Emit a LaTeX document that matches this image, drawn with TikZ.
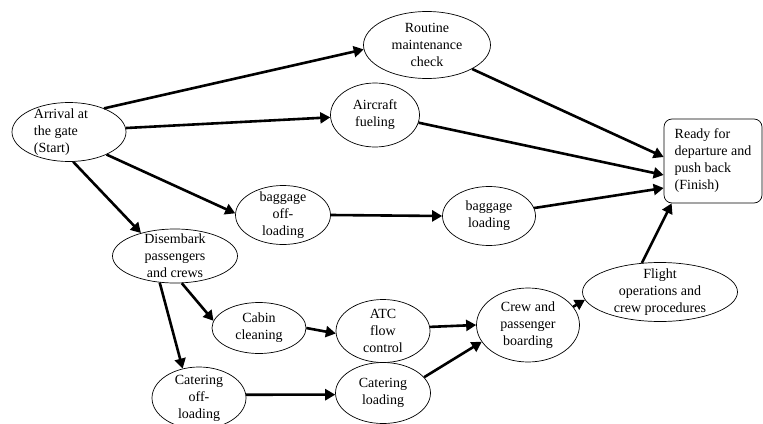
\documentclass[tikz,border=0pt]{standalone}
\usepackage{fontspec}
\setmainfont{Liberation Serif}
\usetikzlibrary{arrows.meta,shapes.geometric}

\begin{document}
\begin{tikzpicture}[x=1pt,y=-1pt,
    act/.style={ellipse, draw, line width=0.7pt, inner sep=0pt},
    txt/.style={align=center, font=\fontsize{14}{17}\selectfont, inner sep=0pt},
    flow/.style={line width=2.6pt, -{Triangle[length=10pt,width=11pt]}}]
    \useasboundingbox (0,0) rectangle (763,423);

    % Start and finish
    \node[act, minimum width=114pt, minimum height=59pt,
      label={[txt, align=left, xshift=-8pt]center:Arrival at\\the gate\\(Start)}] (arrival) at (69,132) {};
    \node[draw, rounded corners=8pt, line width=0.7pt, minimum width=98pt, minimum height=84pt,
      txt, align=left] (ready) at (713,161) {Ready for\\departure and\\push back\\(Finish)};

    % Upper activities
    \node[act, minimum width=127pt, minimum height=67pt,
      label={[txt]center:Routine\\maintenance\\check}] (routine) at (427,45) {};
    \node[act, minimum width=89pt, minimum height=64pt,
      label={[txt]center:Aircraft\\fueling}] (fuel) at (375,115) {};
    \node[act, minimum width=95pt, minimum height=59pt,
      label={[txt]center:baggage\\off-\\loading}] (bagoff) at (283,215) {};
    \node[act, minimum width=93pt, minimum height=59pt,
      label={[txt]center:baggage\\loading}] (bagload) at (489,216) {};

    % Lower activities
    \node[act, minimum width=125pt, minimum height=54pt,
      label={[txt]center:Disembark\\passengers\\and crews}] (disemb) at (175,256) {};
    \node[act, minimum width=94pt, minimum height=51pt,
      label={[txt]center:Cabin\\cleaning}] (cabin) at (259,328) {};
    \node[act, minimum width=94pt, minimum height=63pt,
      label={[txt]center:ATC\\flow\\control}] (atc) at (383,331) {};
    \node[act, minimum width=94pt, minimum height=62pt,
      label={[txt]center:Catering\\off-\\loading}] (catoff) at (199,398) {};
    \node[act, minimum width=95pt, minimum height=61pt,
      label={[txt]center:Catering\\loading}] (catload) at (383,393) {};
    \node[act, minimum width=103pt, minimum height=74pt,
      label={[txt]center:Crew and\\passenger\\boarding}] (crew) at (528,325) {};
    \node[act, minimum width=155pt, minimum height=59pt,
      label={[txt]center:Flight\\operations and\\crew procedures}] (flight) at (660,292) {};

    % Precedence arrows
    \draw[flow] (arrival.34) -- (routine.184);
    \draw[flow] (arrival.4) -- (fuel.183);
    \draw[flow] (arrival.329) -- (bagoff.178);
    \draw[flow] (arrival.278) -- (disemb.146);
    \draw[flow] (routine.332) -- ([yshift=4pt]ready.west);
    \draw[flow] (fuel.350) -- ([yshift=-14pt]ready.west);
    \draw[flow] (bagoff.0) -- (bagload.180);
    \draw[flow] (bagload.10) -- ([yshift=-27pt]ready.west);
    \draw[flow] (disemb.284) -- (cabin.171);
    \draw[flow] (disemb.240) -- (catoff.119);
    \draw[flow] (cabin.0) -- (atc.183);
    \draw[flow] (atc.5) -- (crew.180);
    \draw[flow] (catoff.4) -- (catload.182);
    \draw[flow] (catload.21) -- (crew.200);
    \draw[flow] (crew.22) -- (flight.186);
    \draw[flow] (flight.122) -- ([xshift=8pt]ready.south west);
\end{tikzpicture}
\end{document}
